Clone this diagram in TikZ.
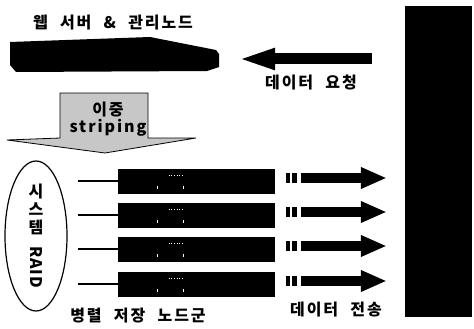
\documentclass[tikz,border=0pt]{standalone}
\usepackage{fontspec}
\setmainfont{Noto Sans CJK KR}[LetterSpace=12,WordSpace=2.2]
\usetikzlibrary{arrows.meta,positioning,shapes.geometric,calc}

\begin{document}
\begin{tikzpicture}[x=1pt,y=-1pt,
  txt/.style={font=\bfseries\fontsize{16}{18}\selectfont, inner sep=0pt},
  rack/.style={rectangle, fill=black, minimum width=157pt, minimum height=25pt, inner sep=0pt},
  link/.style={line width=1.6pt},
  flow/.style={line width=10pt, -{Triangle[length=26pt,width=20pt]},
               dash pattern=on 4pt off 2pt on 5pt off 4pt on 300pt},
  req/.style={line width=11pt, -{Triangle[length=38pt,width=19pt]}}
]
\useasboundingbox (0,0) rectangle (474,329);

% storage column on the right
\node[fill=black, minimum width=67pt, minimum height=311pt, inner sep=0pt] (store) at (438.5,161.5) {};

% web server & management node (flat slab)
\fill (10,42) -- (150,37) -- (216,50) -- (219,54) -- (219,67) -- (207,71) -- (16,72) -- (10,65) -- cycle;
\coordinate (server) at (219,59);
\node[txt] (title) at (113,23) {웹 서버 \& 관리노드};

% data request arrow
\draw[req] ($(store.west |- server)+(-33pt,0)$) -- ([xshift=18pt]server);
\node[txt] (reqtxt) at (311,83) {데이터 요청};

% double striping arrow
\filldraw[fill=black!22, line width=0.8pt]
  (60,93) -- (148,93) -- (148,138) -- (196,138) -- (105,153) -- (7,140) -- (60,138) -- cycle;
\node[txt, align=center] (stripe) at (108,119) {이중\\[-1pt]striping};

% system RAID
\node[ellipse, draw, line width=1.2pt, minimum width=62pt, minimum height=150pt,
      inner sep=0pt, txt, align=center] (raid) at (36,236)
  {시\\[0pt]스\\[0pt]템\\[-5pt]\rotatebox{-90}{\addfontfeature{LetterSpace=6}RAID}};

% parallel storage nodes
\foreach \i/\y in {1/181, 2/215, 3/249, 4/284} {
  \node[rack] (rack\i) at (196.5,\y) {};
  \draw[white, line width=0.7pt, dotted] ([xshift=-28pt,yshift=6pt]rack\i.center) -- ++(16pt,0);
  \fill[white] ([xshift=-40pt,yshift=-5pt]rack\i.center) rectangle ++(1pt,-3pt);
  \fill[white] ([xshift=-14pt,yshift=-5pt]rack\i.center) rectangle ++(1pt,-3pt);
  \draw[link] ([xshift=-40pt]rack\i.west) -- (rack\i.west);
  \draw[flow] ([xshift=11pt,yshift=3pt]rack\i.east) -- ($(store.west |- rack\i.east)+(-18pt,3pt)$);
}

\node[txt] (nodes) at (138,316) {병렬 저장 노드군};
\node[txt] (send) at (336,310) {데이터 전송};
\end{tikzpicture}
\end{document}
